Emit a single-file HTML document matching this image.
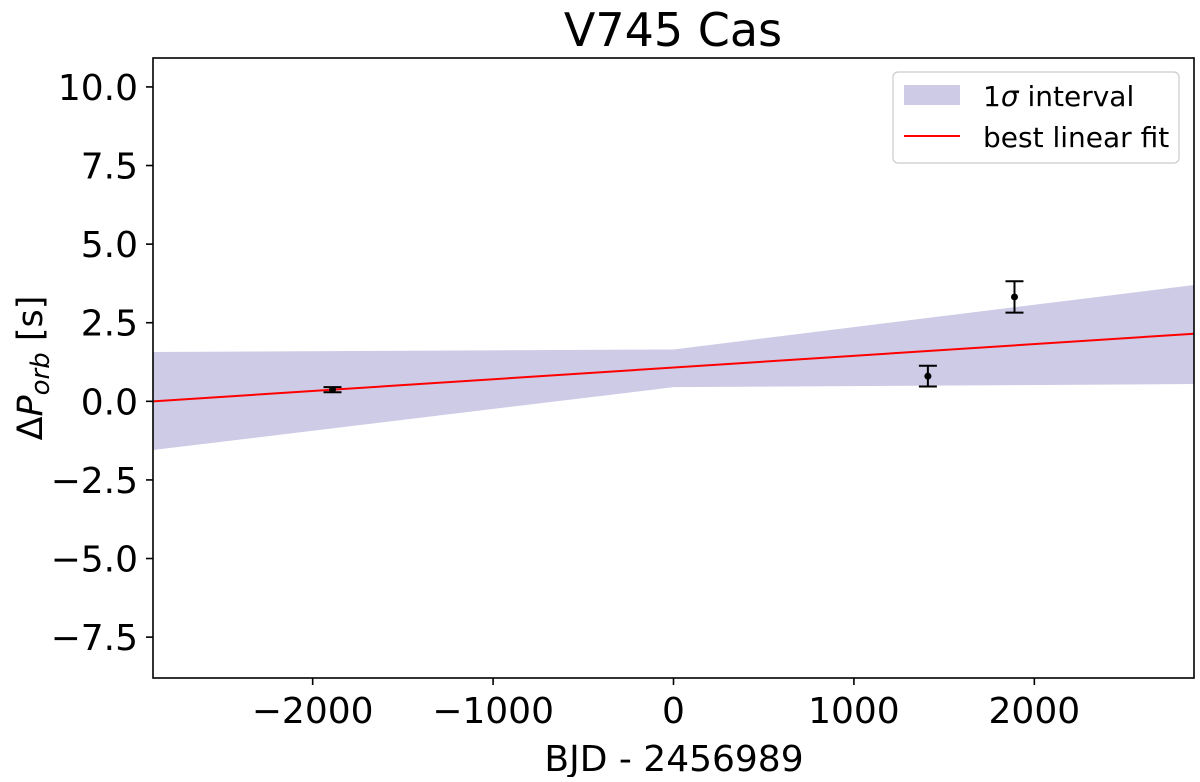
<!DOCTYPE html>
<html><head><meta charset="utf-8"><style>
html,body{margin:0;padding:0;background:#fff;}
svg text{font-family:"DejaVu Sans","Liberation Sans",sans-serif;fill:#000;}
</style></head><body>
<svg id="chart" width="1200" height="777" viewBox="0 0 1200 777" xmlns="http://www.w3.org/2000/svg">
<text x="673" y="46" font-size="46" text-anchor="middle">V745 Cas</text>
<g id="plot"></g>
<text x="674" y="771" font-size="36" text-anchor="middle">BJD - 2456989</text>
<text transform="translate(42,368) rotate(-90)" font-size="35" text-anchor="middle">Δ<tspan font-style="italic">P</tspan><tspan font-style="italic" font-size="26" dy="7">orb</tspan><tspan dy="-7"> [s]</tspan></text>
<g>
<rect x="893" y="72" width="286" height="91" rx="5" fill="#fff" fill-opacity="0.8" stroke="#ccc" stroke-width="1.2"/>
<rect x="904" y="85" width="56" height="20" fill="#cdcbe6"/>
<text x="983" y="106" font-size="28">1<tspan font-style="italic">σ</tspan> interval</text>
<line x1="904" y1="136" x2="960" y2="136" stroke="#ff0000" stroke-width="2"/>
<text x="983" y="147" font-size="28">best linear fit</text>
</g>
</svg>
<script>
const xDomain=[-2885,2885];
const yDomain=[-8.8,10.92];
const xTicks=[-2000,-1000,0,1000,2000];
const xTickLabels=["\u22122000","\u22121000","0","1000","2000"];
const yTicks=[-7.5,-5,-2.5,0,2.5,5,7.5,10];
const yTickLabels=["\u22127.5","\u22125.0","\u22122.5","0.0","2.5","5.0","7.5","10.0"];
const bandX=[-2885,0,2885];
const bandUpper=[1.57,1.65,3.7];
const bandLower=[-1.55,0.45,0.55];
const fitX=[-2885,2885];
const fitY=[0.0,2.15];
const ptX=[-1890,1410,1890];
const ptY=[0.37,0.8,3.32];
const ptErr=[0.08,0.33,0.5];

const L=153,R=1194,T=58,B=678;
const NS="http://www.w3.org/2000/svg";
function sx(v){return L+(v-xDomain[0])/(xDomain[1]-xDomain[0])*(R-L);}
function sy(v){return B-(v-yDomain[0])/(yDomain[1]-yDomain[0])*(B-T);}
const g=document.getElementById('plot');
function mk(tag,attrs){const e=document.createElementNS(NS,tag);for(const k in attrs)e.setAttribute(k,attrs[k]);g.appendChild(e);return e;}

let pts=bandX.map((x,i)=>sx(x)+','+sy(bandUpper[i]));
for(let i=bandX.length-1;i>=0;i--)pts.push(sx(bandX[i])+','+sy(bandLower[i]));
let band=mk('polygon',{points:pts.join(' '),fill:'#cdcbe6'});



let fit=mk('line',{x1:sx(fitX[0]),y1:sy(fitY[0]),x2:sx(fitX[1]),y2:sy(fitY[1]),stroke:'#ff0000','stroke-width':2});



ptX.forEach((x,i)=>{
  const cx=sx(x),cy=sy(ptY[i]),y1=sy(ptY[i]+ptErr[i]),y2=sy(ptY[i]-ptErr[i]);
  const grp=mk('g',{});
  
  
  [[cx,y1,cx,y2],[cx-9,y1,cx+9,y1],[cx-9,y2,cx+9,y2]].forEach(c=>{
    const l=document.createElementNS(NS,'line');
    l.setAttribute('x1',c[0]);l.setAttribute('y1',c[1]);l.setAttribute('x2',c[2]);l.setAttribute('y2',c[3]);
    l.setAttribute('stroke','#000');l.setAttribute('stroke-width','2');
    
    
    grp.appendChild(l);
  });
  const c=document.createElementNS(NS,'circle');
  c.setAttribute('cx',cx);c.setAttribute('cy',cy);c.setAttribute('r',3.5);c.setAttribute('fill','#000');
  
  
  grp.appendChild(c);
});

let frame=mk('rect',{x:L,y:T,width:R-L,height:B-T,fill:'none',stroke:'#000','stroke-width':1.6});



xTicks.forEach((v,i)=>{
  const x=sx(v);
  const t=mk('line',{x1:x,y1:B,x2:x,y2:B+7,stroke:'#000','stroke-width':1.6});
  
  
  const lb=mk('text',{x:x,y:B+45,'font-size':36,'text-anchor':'middle'});
  lb.textContent=xTickLabels[i];
  
  
});
yTicks.forEach((v,i)=>{
  const y=sy(v);
  const t=mk('line',{x1:L-7,y1:y,x2:L,y2:y,stroke:'#000','stroke-width':1.6});
  
  
  const lb=mk('text',{x:L-15,y:y+13,'font-size':36,'text-anchor':'end'});
  lb.textContent=yTickLabels[i];
  
  
});
</script>
</body></html>
